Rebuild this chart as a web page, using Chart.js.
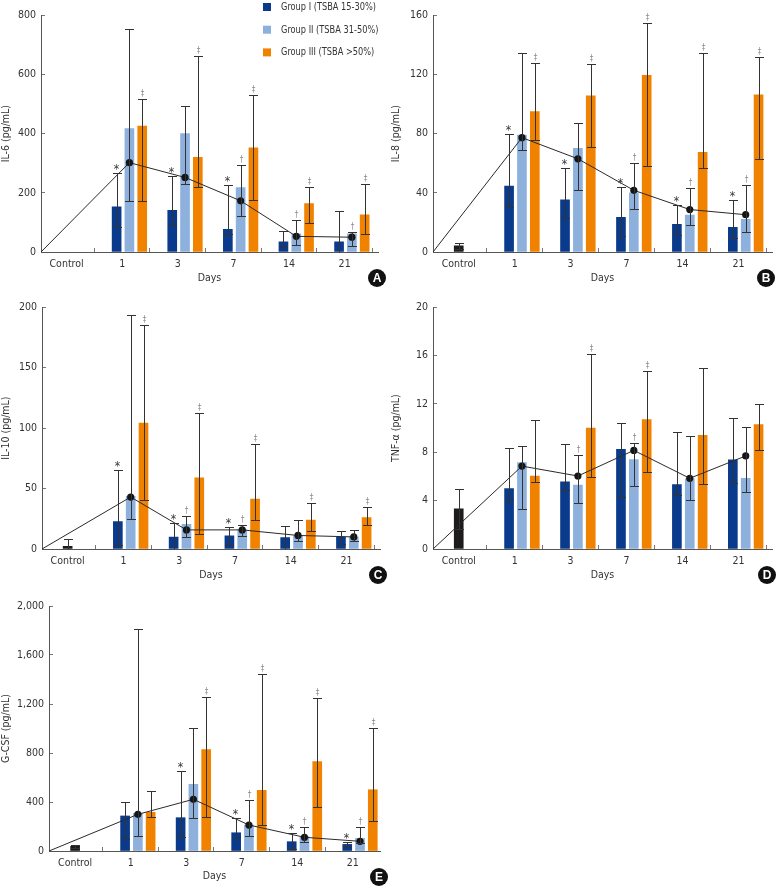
<!DOCTYPE html>
<html>
<head>
<meta charset="utf-8">
<script src="https://cdn.jsdelivr.net/npm/chart.js@4.4.1/dist/chart.umd.min.js"></script>
<style>
  body { margin: 0; background: #fff; }
  #wrap { position: relative; width: 776px; height: 886px; }
  canvas { position: absolute; }
</style>
</head>
<body>
<div id="wrap">
  <canvas id="chartA" width="390" height="292" style="left:0;top:0"></canvas>
  <canvas id="chartB" width="386" height="292" style="left:390px;top:0"></canvas>
  <canvas id="chartC" width="390" height="294" style="left:0;top:292px"></canvas>
  <canvas id="chartD" width="386" height="294" style="left:390px;top:292px"></canvas>
  <canvas id="chartE" width="390" height="300" style="left:0;top:586px"></canvas>
</div>
<script>
const categories = ['Control', '1', '3', '7', '14', '21'];
const groupNames = ['Group I (TSBA 15-30%)', 'Group II (TSBA 31-50%)', 'Group III (TSBA >50%)'];
const groupColors = ['#0a3a8c', '#8db0dd', '#f08200'];
const controlColor = '#1e1b1c';
const groupShift = [-0.1, 0.13, 0.36];
const FONT = '"DejaVu Sans Condensed", "Liberation Sans Narrow", sans-serif';

// IL-6
const il6G1 = [153, 141, 77, 34, 34];
const il6G1Err = [[84, 267], [91, 256], [62, 225], [16, 72], [0, 139]];
const il6G2 = [417, 400, 218, 61, 61];
const il6G2Err = [[173, 755], [230, 495], [120, 294], [23, 107], [20, 66]];
const il6G3 = [426, 320, 352, 164, 126];
const il6G3Err = [[173, 517], [221, 661], [175, 531], [99, 219], [62, 231]];
const il6Mean = [302, 252, 173, 53, 50];
const il6Marks1 = ['*', '*', '*', '', ''];
const il6Marks2 = ['', '', '†', '†', '†'];
const il6Marks3 = ['‡', '‡', '‡', '‡', '‡'];

// IL-8
const il8Control = 4.1;
const il8ControlErr = [2.1, 6.1];
const il8G1 = [44.5, 35.2, 23.4, 18.7, 16.7];
const il8G1Err = [[30.6, 80], [22.8, 56.9], [10.9, 43.6], [11.3, 31.9], [9.8, 35]];
const il8G2 = [79, 70.1, 40, 25, 22.1];
const il8G2Err = [[69, 134.6], [41.7, 87.3], [29.1, 60], [18.2, 43.2], [13.5, 45]];
const il8G3 = [95, 105.5, 119.4, 67.3, 106.2];
const il8G3Err = [[75.6, 127.7], [70.8, 127], [58, 155], [56.9, 134.8], [63.2, 132]];
const il8Mean = [77.3, 63, 41.7, 28.7, 25.2];
const il8Marks1 = ['*', '*', '*', '*', '*'];
const il8Marks2 = ['', '', '†', '†', '†'];
const il8Marks3 = ['‡', '‡', '‡', '‡', '‡'];

// IL-10
const il10Control = 2.2;
const il10ControlErr = [0, 8.2];
const il10G1 = [22.6, 9.8, 10.9, 9.5, 9.8];
const il10G1Err = [[3.5, 65.6], [0, 21.2], [3, 18], [0, 18.8], [4, 15.2]];
const il10G2 = [43.5, 20.4, 15.8, 10.9, 9.8];
const il10G2Err = [[24.5, 193.7], [9.8, 27.5], [10.9, 19.6], [7, 24], [6.5, 15.5]];
const il10G3 = [104.2, 58.8, 41.4, 24, 25.9];
const il10G3Err = [[40.3, 185], [12.2, 112.7], [24, 86.5], [15.2, 38.4], [19.6, 35.1]];
const il10Mean = [43, 15.8, 15.8, 11.2, 10];
const il10Marks1 = ['*', '*', '*', '', ''];
const il10Marks2 = ['', '†', '†', '', ''];
const il10Marks3 = ['‡', '‡', '‡', '‡', '‡'];

// TNF-α
const tnfControl = 3.32;
const tnfControlErr = [1.66, 4.98];
const tnfG1 = [5.0, 5.55, 8.24, 5.33, 7.37];
const tnfG1Err = [[4.08, 8.33], [4.9, 8.71], [4.27, 10.45], [4.46, 9.66], [5.5, 10.8]];
const tnfG2 = [7.16, 5.28, 7.4, 5.8, 5.85];
const tnfG2Err = [[3.27, 8.54], [3.81, 7.76], [5.2, 8.79], [4.05, 9.39], [4.73, 10.07]];
const tnfG3 = [6.04, 10.0, 10.7, 9.41, 10.3];
const tnfG3Err = [[5.52, 10.7], [5.99, 16.1], [6.37, 14.7], [5.41, 14.94], [8.16, 12.03]];
const tnfMean = [6.86, 6.04, 8.16, 5.85, 7.7];
const tnfMarks1 = ['', '', '', '', ''];
const tnfMarks2 = ['', '†', '†', '', ''];
const tnfMarks3 = ['', '‡', '‡', '', ''];

// G-CSF
const gcsfControl = 38;
const gcsfControlErr = [27, 49];
const gcsfG1 = [286, 272, 149, 76, 54];
const gcsfG1Err = [[95, 400], [117, 650], [103, 267], [20, 144], [30, 76]];
const gcsfG2 = [307, 544, 212, 117, 103];
const gcsfG2Err = [[120, 1810], [272, 1001], [125, 416], [70, 198], [63, 193]];
const gcsfG3 = [316, 827, 495, 729, 500];
const gcsfG3Err = [[275, 493], [275, 1254], [212, 1442], [359, 1246], [245, 1004]];
const gcsfMean = [299, 422, 212, 112, 79];
const gcsfMarks1 = ['', '*', '*', '*', '*'];
const gcsfMarks2 = ['', '', '†', '†', '†'];
const gcsfMarks3 = ['', '‡', '‡', '‡', '‡'];

// whiskers + significance marks
const errorBars = {
  id: 'errorBars',
  afterDatasetsDraw(chart) {
    const ctx = chart.ctx, y = chart.scales.y;
    ctx.save();
    chart.data.datasets.forEach((ds, i) => {
      if (!ds.errors) return;
      const meta = chart.getDatasetMeta(i);
      meta.data.forEach((bar, j) => {
        const e = ds.errors[j];
        if (!e) return;
        const x = Math.round(bar.x) + 0.5;
        const yLo = Math.round(y.getPixelForValue(e[0])) + 0.5;
        const yHi = Math.round(y.getPixelForValue(e[1])) + 0.5;
        ctx.strokeStyle = '#333';
        ctx.lineWidth = 1;
        ctx.beginPath();
        ctx.moveTo(x, yLo); ctx.lineTo(x, yHi);
        ctx.moveTo(x - 4.5, yHi); ctx.lineTo(x + 4.5, yHi);
        if (e[0] > 0) { ctx.moveTo(x - 4.5, yLo); ctx.lineTo(x + 4.5, yLo); }
        ctx.stroke();
        const m = ds.marks && ds.marks[j];
        if (m) {
          ctx.textAlign = 'center';
          ctx.textBaseline = 'middle';
          if (m === '*') {
            ctx.fillStyle = '#333';
            ctx.font = '12px ' + FONT;
            ctx.fillText(m, x - 1, yHi - 4);
          } else {
            ctx.fillStyle = '#888';
            ctx.font = '8px ' + FONT;
            ctx.fillText(m, x, yHi - 6);
          }
        }
      });
    });
    ctx.restore();
  }
};

const panelLetter = {
  id: 'panelLetter',
  afterDraw(chart, args, opts) {
    if (!opts.text) return;
    const ctx = chart.ctx, a = chart.chartArea;
    const cx = a.right + opts.dx, cy = a.bottom + 26;
    ctx.save();
    ctx.fillStyle = '#111';
    ctx.beginPath();
    ctx.arc(cx, cy, 9, 0, Math.PI * 2);
    ctx.fill();
    ctx.fillStyle = '#fff';
    ctx.font = 'bold 12px "Liberation Sans", Arial, sans-serif';
    ctx.textAlign = 'center';
    ctx.textBaseline = 'middle';
    ctx.fillText(opts.text, cx, cy + 1);
    ctx.restore();
  }
};

const groupLegend = {
  id: 'groupLegend',
  afterDraw(chart, args, opts) {
    if (!opts.show) return;
    const ctx = chart.ctx;
    ctx.save();
    ctx.font = '11px ' + FONT;
    ctx.textBaseline = 'middle';
    ctx.textAlign = 'left';
    const sx = 95 / ctx.measureText(groupNames[0]).width;
    groupNames.forEach((name, k) => {
      const cy = 7 + k * 22.7;
      ctx.fillStyle = groupColors[k];
      ctx.fillRect(263, cy - 4, 8, 8);
      ctx.fillStyle = '#333';
      ctx.save();
      ctx.translate(281, cy);
      ctx.scale(sx, 1);
      ctx.fillText(name, 0, 0);
      ctx.restore();
    });
    ctx.restore();
  }
};

function makePanel(p) {
  const canvas = document.getElementById(p.id);
  const W = canvas.width, H = canvas.height;
  const xh = p.daysY + 6 - p.bottom;
  const datasets = [{
    type: 'line',
    label: 'Mean',
    data: [{x: p.xMin, y: 0}].concat(p.mean.map((v, i) => ({x: i + 1 + groupShift[1], y: v}))),
    borderColor: '#2a2a2a',
    borderWidth: 1,
    pointRadius: c => c.dataIndex === 0 ? 0 : 3.6,
    pointBackgroundColor: '#151515',
    pointBorderWidth: 0,
    tension: 0,
    order: 0
  }];
  p.groups.forEach((g, k) => datasets.push({
    type: 'bar',
    label: groupNames[k],
    data: g.mean.map((v, i) => ({x: i + 1 + groupShift[k], y: v})),
    errors: g.err,
    marks: g.marks,
    backgroundColor: groupColors[k],
    barThickness: 9,
    grouped: false,
    order: 1
  }));
  if (p.control) datasets.push({
    type: 'bar',
    label: 'Control',
    data: [{x: 0, y: p.control}],
    errors: [p.controlErr],
    backgroundColor: controlColor,
    barThickness: 9,
    grouped: false,
    order: 1
  });
  const tickFont = {family: FONT, size: 10.5};
  return new Chart(canvas, {
    type: 'bar',
    data: {datasets: datasets},
    options: {
      responsive: false,
      animation: false,
      layout: {padding: {top: p.top, right: W - p.right, left: 0, bottom: H - p.bottom - xh}},
      plugins: {
        legend: {display: false},
        tooltip: {enabled: false},
        panelLetter: {text: p.letter, dx: p.letterDx},
        groupLegend: {show: !!p.legend}
      },
      scales: {
        x: {
          type: 'linear',
          offset: false,
          min: p.xMin,
          max: p.xMax,
          afterBuildTicks: s => { s.ticks = categories.map((c, i) => ({value: i})); },
          ticks: {callback: v => categories[v], font: tickFont, color: '#333', padding: 10, maxRotation: 0, autoSkip: false},
          grid: {drawOnChartArea: false, tickLength: -4, color: '#777'},
          border: {color: '#555'},
          title: {display: true, text: 'Days', font: tickFont, color: '#333', padding: 0},
          afterFit: s => { s.height = xh; }
        },
        y: {
          min: 0,
          max: p.yMax,
          ticks: {stepSize: p.step, callback: v => v.toLocaleString('en-US'), font: tickFont, color: '#333', padding: 9},
          grid: {drawOnChartArea: false, tickLength: -4, color: '#777'},
          border: {color: '#555'},
          title: {display: true, text: p.title, font: tickFont, color: '#333', padding: 0},
          afterFit: s => { s.width = p.left; }
        }
      }
    },
    plugins: [errorBars, panelLetter, groupLegend]
  });
}

makePanel({
  id: 'chartA', letter: 'A', letterDx: -1, title: 'IL-6 (pg/mL)', yMax: 800, step: 200, legend: true,
  left: 41, top: 7, right: 378, bottom: 252, daysY: 279, xMin: -0.46, xMax: 5.6,
  mean: il6Mean,
  groups: [
    {mean: il6G1, err: il6G1Err, marks: il6Marks1},
    {mean: il6G2, err: il6G2Err, marks: il6Marks2},
    {mean: il6G3, err: il6G3Err, marks: il6Marks3}
  ]
});
makePanel({
  id: 'chartB', letter: 'B', letterDx: -6, title: 'IL-8 (pg/mL)', yMax: 160, step: 40,
  left: 43, top: 7, right: 382, bottom: 252, daysY: 279, xMin: -0.46, xMax: 5.6,
  control: il8Control, controlErr: il8ControlErr, mean: il8Mean,
  groups: [
    {mean: il8G1, err: il8G1Err, marks: il8Marks1},
    {mean: il8G2, err: il8G2Err, marks: il8Marks2},
    {mean: il8G3, err: il8G3Err, marks: il8Marks3}
  ]
});
makePanel({
  id: 'chartC', letter: 'C', letterDx: -2, title: 'IL-10 (pg/mL)', yMax: 200, step: 50,
  left: 42, top: 12, right: 380, bottom: 257, daysY: 284, xMin: -0.46, xMax: 5.6,
  control: il10Control, controlErr: il10ControlErr, mean: il10Mean,
  groups: [
    {mean: il10G1, err: il10G1Err, marks: il10Marks1},
    {mean: il10G2, err: il10G2Err, marks: il10Marks2},
    {mean: il10G3, err: il10G3Err, marks: il10Marks3}
  ]
});
makePanel({
  id: 'chartD', letter: 'D', letterDx: -5, title: 'TNF-α (pg/mL)', yMax: 20, step: 4,
  left: 43, top: 12, right: 382, bottom: 257, daysY: 284, xMin: -0.46, xMax: 5.6,
  control: tnfControl, controlErr: tnfControlErr, mean: tnfMean,
  groups: [
    {mean: tnfG1, err: tnfG1Err, marks: tnfMarks1},
    {mean: tnfG2, err: tnfG2Err, marks: tnfMarks2},
    {mean: tnfG3, err: tnfG3Err, marks: tnfMarks3}
  ]
});
makePanel({
  id: 'chartE', letter: 'E', letterDx: -1, title: 'G-CSF (pg/mL)', yMax: 2000, step: 400,
  left: 49, top: 20, right: 380, bottom: 265, daysY: 291, xMin: -0.47, xMax: 5.49,
  control: gcsfControl, controlErr: gcsfControlErr, mean: gcsfMean,
  groups: [
    {mean: gcsfG1, err: gcsfG1Err, marks: gcsfMarks1},
    {mean: gcsfG2, err: gcsfG2Err, marks: gcsfMarks2},
    {mean: gcsfG3, err: gcsfG3Err, marks: gcsfMarks3}
  ]
});
</script>
</body>
</html>
